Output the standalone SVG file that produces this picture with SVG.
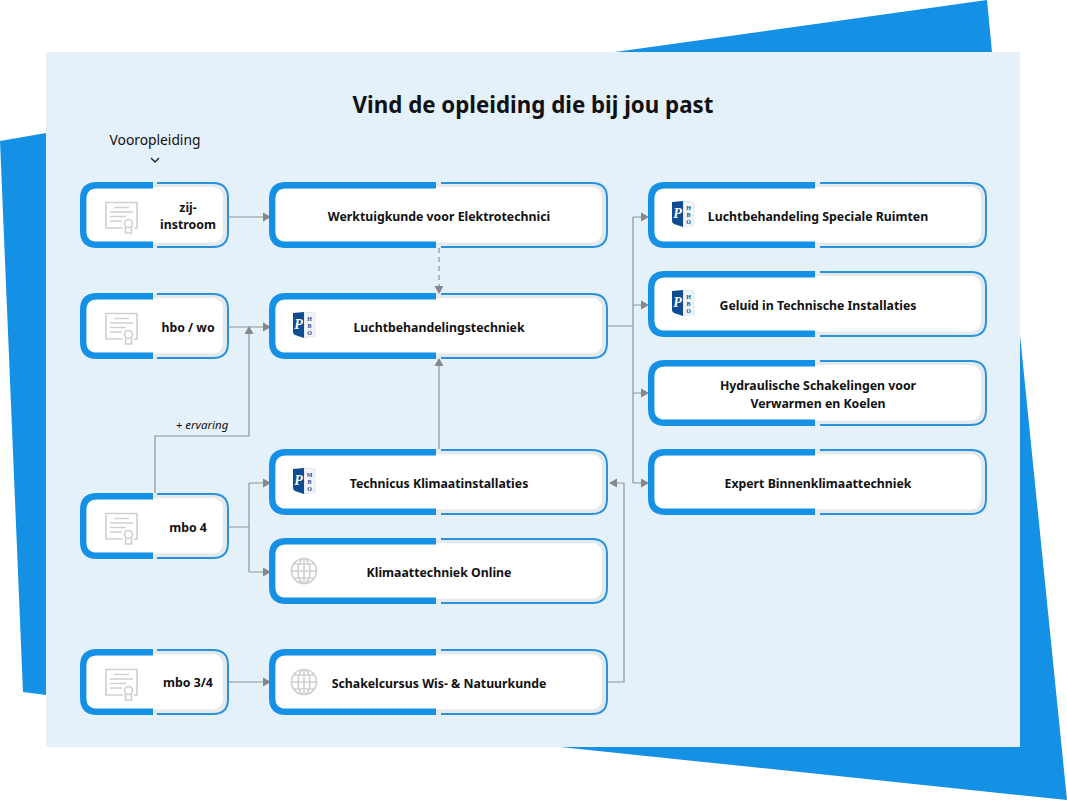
<svg xmlns="http://www.w3.org/2000/svg" width="1067" height="800" viewBox="0 0 1067 800">
<style>
text{font-family:"Noto Sans","Open Sans",sans-serif;fill:#111}
.t{font-size:12.3px;font-weight:700;text-anchor:middle}
.thick{fill:none;stroke:#1490e4;stroke-width:6.400}
.thin{fill:none;stroke:#2a92dc;stroke-width:2}
.c{fill:none;stroke:#909396;stroke-width:1.200}
.ic{fill:none;stroke:#cfcfcf;stroke-width:1.600}
.ar{fill:#85888a}
.lg{font-family:"Liberation Serif",serif;font-weight:700;text-anchor:middle}
.bl{fill:#0f4c92}
.lt{font-family:"Liberation Serif",serif;font-weight:700;text-anchor:middle;font-size:6px;fill:#0f4c92}
</style>
<defs>
<g id="nS">
<rect x="2" y="2" width="145" height="62" rx="14" fill="#e4e9ee"/>
<rect x="5" y="5" width="138" height="55.500" rx="10" fill="#fff"/>
<path class="thin" d="M77 1H133Q148 1 148 16V50Q148 65 133 65H77"/>
<path class="thick" d="M73 3.200H17Q3.200 3.200 3.200 17V49Q3.200 62.800 17 62.800H73"/>
</g>
<g id="nL">
<rect x="2" y="2" width="335" height="62" rx="14" fill="#e4e9ee"/>
<rect x="5" y="5" width="328" height="55.500" rx="10" fill="#fff"/>
<path class="thin" d="M172 1H323Q338 1 338 16V50Q338 65 323 65H172"/>
<path class="thick" d="M167 3.200H17Q3.200 3.200 3.200 17V49Q3.200 62.800 17 62.800H167"/>
</g>
<g id="cert">
<path class="ic" d="M43 46H26V20.500H57V46H54"/>
<path class="ic" d="M34 25.500H49M30 30H53M30 34.500H46M30 39H42"/>
<circle class="ic" cx="48.500" cy="41.500" r="4"/>
<path class="ic" d="M45.500 45V51H51.500V45"/>
</g>
<g id="globe">
<circle class="ic" cx="35" cy="33" r="12.500"/>
<ellipse class="ic" cx="35" cy="33" rx="6" ry="12.500"/>
<path class="ic" d="M35 20.500V45.500M22.500 33H47.500M24.500 26H45.500M24.500 40H45.500"/>
</g>
<g id="logo">
<path d="M35 19L46 20V43L35 45Z" fill="#f1f4f8" stroke="#c8d2dc" stroke-width=".5"/>
<path d="M24 20L35 19V45L26 42Q24 41 24 39Z" class="bl"/>
<text class="lg" x="29.500" y="36" font-size="14" font-style="italic" style="fill:#fff">P</text>
</g>
</defs>
<g id="background">
<polygon points="615,52 987,0 992,52" fill="#1490e4"/>
<polygon points="0,141 46,133 46,695 23,692" fill="#1490e4"/>
<polygon points="1020,335 1067,800 560,747 1020,747" fill="#1490e4"/>
<rect x="46" y="52" width="974" height="695" fill="#e4f0fa"/>
</g>
<text x="533" y="113" font-size="22.300" font-weight="700" text-anchor="middle">Vind de opleiding die bij jou past</text>
<text x="155" y="145" font-size="13.800" text-anchor="middle">Vooropleiding</text>
<path d="M151 158L155 162L159 158" fill="none" stroke="#222" stroke-width="1.300"/>
<g id="connectors">
<path class="c" d="M229 217H266M229 327H266M155 493V436H249V331M229 527H249M249 483V572M249 483H266M249 572H266M229 682H266M439 449V364M608 326H633M633 217V483M633 217H644M633 305H644M633 393H644M633 483H644M608 682H624V483H614"/>
<path class="c" d="M439 248V289" stroke-dasharray="5 4"/>
<polygon class="ar" points="271,217 263,212.500 263,221.500"/>
<polygon class="ar" points="271,327 263,322.500 263,331.500"/>
<polygon class="ar" points="249,326 244.500,334 253.500,334"/>
<polygon class="ar" points="271,483 263,478.500 263,487.500"/>
<polygon class="ar" points="271,572 263,567.500 263,576.500"/>
<polygon class="ar" points="271,682 263,677.500 263,686.500"/>
<polygon class="ar" points="439,294 434.500,286 443.500,286"/>
<polygon class="ar" points="439,358 434.500,366 443.500,366"/>
<polygon class="ar" points="649,217 641,212.500 641,221.500"/>
<polygon class="ar" points="649,305 641,300.500 641,309.500"/>
<polygon class="ar" points="649,393 641,388.500 641,397.500"/>
<polygon class="ar" points="649,483 641,478.500 641,487.500"/>
<polygon class="ar" points="609,483 617,478.500 617,487.500"/>
</g>
<text x="202" y="429" font-size="11.500" font-style="italic" text-anchor="middle">+ ervaring</text>
<g id="n-zij" transform="translate(80,182)"><use href="#nS"/><use href="#cert"/><text class="t" x="108" y="30">zij-</text><text class="t" x="108" y="47">instroom</text></g>
<g id="n-hbo" transform="translate(80,293)"><use href="#nS"/><use href="#cert"/><text class="t" x="108" y="39">hbo / wo</text></g>
<g id="n-mbo4" transform="translate(80,493)"><use href="#nS"/><use href="#cert"/><text class="t" x="108" y="39">mbo 4</text></g>
<g id="n-mbo34" transform="translate(80,649)"><use href="#nS"/><use href="#cert"/><text class="t" x="108" y="38">mbo 3/4</text></g>
<g id="n-werk" transform="translate(269,182)"><use href="#nL"/><text class="t" x="170" y="39">Werktuigkunde voor Elektrotechnici</text></g>
<g id="n-lucht" transform="translate(269,293)"><use href="#nL"/><use href="#logo"/><text class="lt" x="40.500" y="28">H</text><text class="lt" x="40.500" y="35">B</text><text class="lt" x="40.500" y="42">O</text><text class="t" x="170" y="39">Luchtbehandelingstechniek</text></g>
<g id="n-tech" transform="translate(269,449)"><use href="#nL"/><use href="#logo"/><text class="lt" x="40.500" y="28">M</text><text class="lt" x="40.500" y="35">B</text><text class="lt" x="40.500" y="42">O</text><text class="t" x="170" y="39">Technicus Klimaatinstallaties</text></g>
<g id="n-online" transform="translate(269,538)"><use href="#nL"/><use href="#globe"/><text class="t" x="170" y="39">Klimaattechniek Online</text></g>
<g id="n-schakel" transform="translate(269,649)"><use href="#nL"/><use href="#globe"/><text class="t" x="170" y="39">Schakelcursus Wis- &amp; Natuurkunde</text></g>
<g id="n-ruimten" transform="translate(648,182)"><use href="#nL"/><use href="#logo"/><text class="lt" x="40.500" y="28">H</text><text class="lt" x="40.500" y="35">B</text><text class="lt" x="40.500" y="42">O</text><text class="t" x="170" y="39">Luchtbehandeling Speciale Ruimten</text></g>
<g id="n-geluid" transform="translate(648,271)"><use href="#nL"/><use href="#logo"/><text class="lt" x="40.500" y="28">H</text><text class="lt" x="40.500" y="35">B</text><text class="lt" x="40.500" y="42">O</text><text class="t" x="170" y="39">Geluid in Technische Installaties</text></g>
<g id="n-hydro" transform="translate(648,360)"><use href="#nL"/><text class="t" x="170" y="30">Hydraulische Schakelingen voor</text><text class="t" x="170" y="48">Verwarmen en Koelen</text></g>
<g id="n-expert" transform="translate(648,449)"><use href="#nL"/><text class="t" x="170" y="39">Expert Binnenklimaattechniek</text></g>
</svg>
